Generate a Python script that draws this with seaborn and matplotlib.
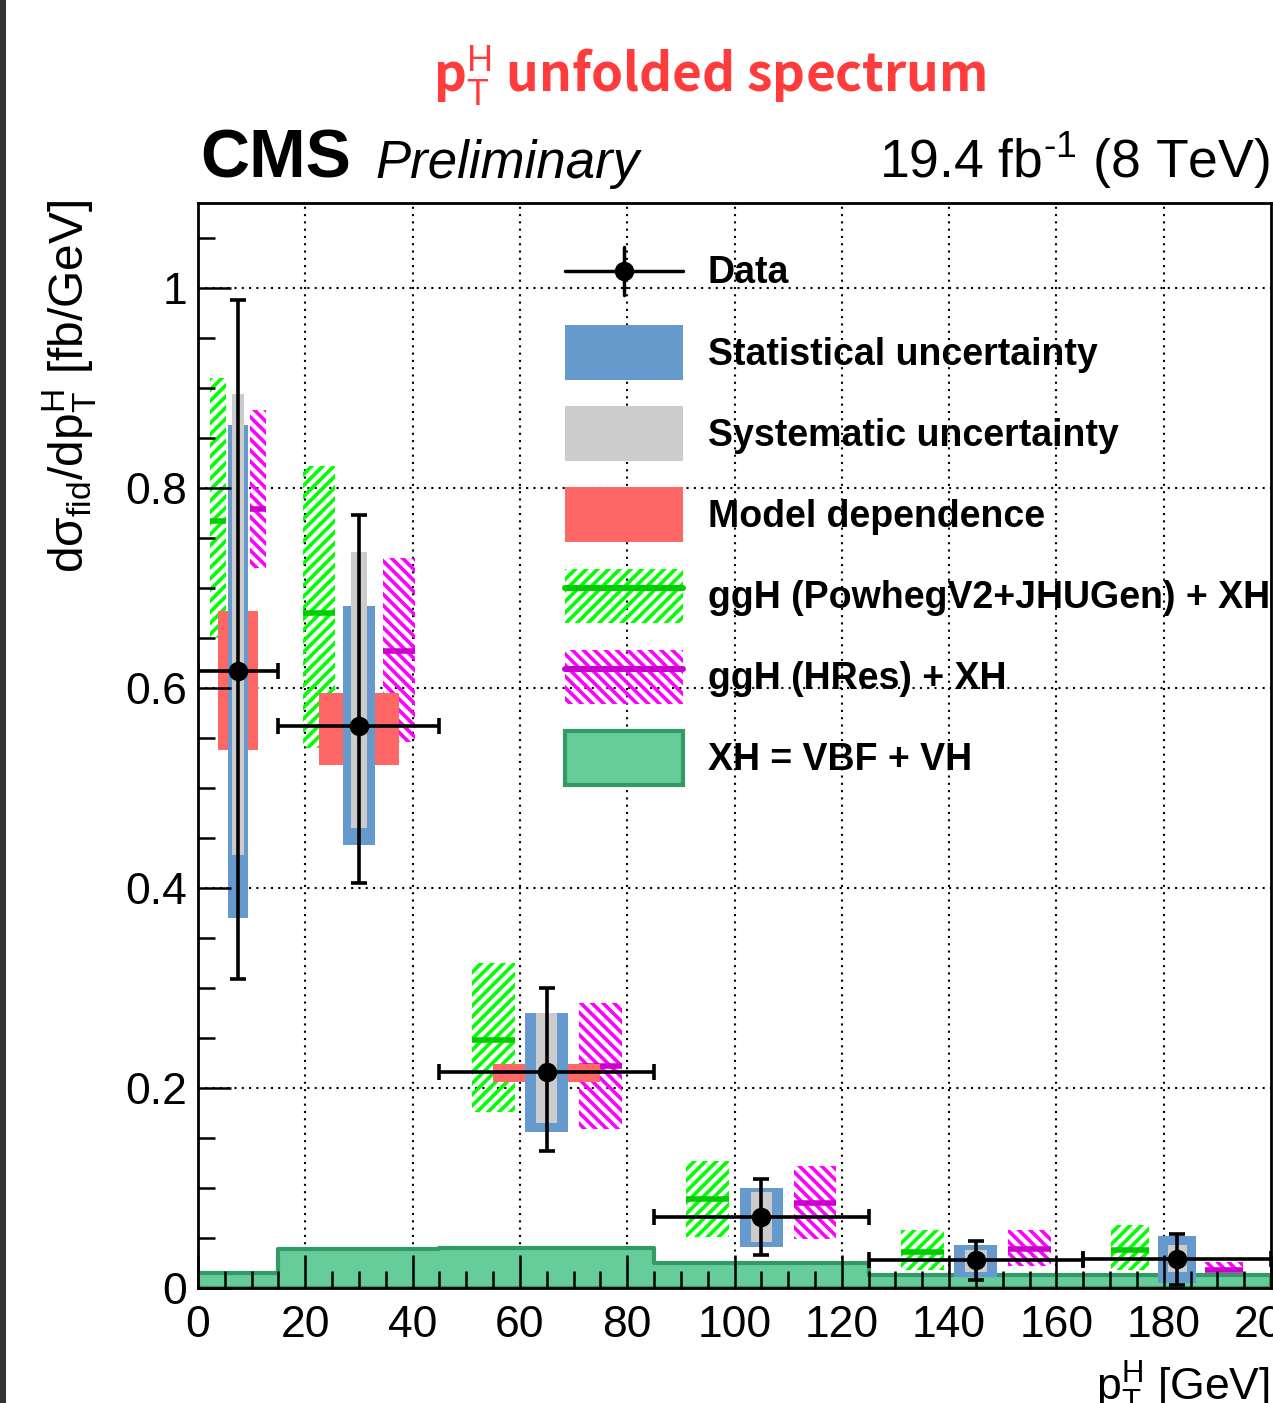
import numpy as np
import pandas as pd
import seaborn as sns
import matplotlib
matplotlib.use("Agg")
import matplotlib.pyplot as plt
from matplotlib.patches import Patch, Rectangle
from matplotlib.lines import Line2D
from matplotlib.legend_handler import HandlerBase, HandlerTuple
from matplotlib.ticker import MultipleLocator, FuncFormatter

# ---- binning (GeV) ----
bin_edges = [0, 15, 45, 85, 125, 165, 200]

# ---- unfolded data: central value and total-uncertainty band [fb/GeV] ----
data_xs = np.array([0.617, 0.562, 0.216, 0.071, 0.028, 0.029])
tot_hi = np.array([0.988, 0.773, 0.300, 0.109, 0.047, 0.054])
tot_lo = np.array([0.309, 0.405, 0.137, 0.033, 0.008, 0.003])

# statistical / systematic / model-dependence bands
stat_hi = np.array([0.863, 0.682, 0.275, 0.100, 0.043, 0.052])
stat_lo = np.array([0.370, 0.443, 0.156, 0.041, 0.011, 0.005])
syst_hi = np.array([0.894, 0.736, 0.275, 0.096, 0.038, 0.043])
syst_lo = np.array([0.433, 0.460, 0.165, 0.046, 0.016, 0.016])
model_hi = np.array([0.677, 0.595, 0.224, np.nan, np.nan, np.nan])
model_lo = np.array([0.538, 0.523, 0.206, np.nan, np.nan, np.nan])

# theory predictions: ggH (PowhegV2+JHUGen) + XH
powheg_c = np.array([0.767, 0.675, 0.248, 0.089, 0.036, 0.038])
powheg_hi = np.array([0.910, 0.822, 0.325, 0.127, 0.058, 0.063])
powheg_lo = np.array([0.650, 0.540, 0.176, 0.051, 0.018, 0.018])

# ggH (HRes) + XH
hres_c = np.array([0.779, 0.637, 0.222, 0.085, 0.039, 0.018])
hres_hi = np.array([0.878, 0.730, 0.285, 0.122, 0.058, 0.026])
hres_lo = np.array([0.720, 0.546, 0.159, 0.049, 0.022, 0.016])

# XH = VBF + VH
xh_vals = [0.015, 0.039, 0.040, 0.025, 0.013, 0.013]

edges = np.array(bin_edges, dtype=float)
centers = 0.5 * (edges[:-1] + edges[1:])
widths = np.diff(edges)

# ---- colours ----
C_STAT = "#6699cc"
C_SYST = "#cccccc"
C_MODEL = "#ff6666"
C_POW_H = "#00ff00"
C_POW_L = "#00cc00"
C_HRES_H = "#ff00ff"
C_HRES_L = "#cc00cc"
C_XH_F = "#66cc99"
C_XH_E = "#339966"
HATCH_POW = "///"
HATCH_HRES = "\\\\\\"

sns.set_theme(style="white")
plt.rcParams.update({
    "font.family": ["Liberation Sans", "DejaVu Sans"],
    "mathtext.fontset": "custom",
    "mathtext.rm": "Liberation Sans",
    "mathtext.it": "Liberation Sans:italic",
    "mathtext.bf": "Noto Sans CJK KR:bold",
    "hatch.linewidth": 2.6,
    "axes.linewidth": 2.0,
    "axes.edgecolor": "black",
    "text.color": "black",
    "axes.labelcolor": "black",
    "xtick.color": "black",
    "ytick.color": "black",
})

W, H = 1273, 1403
fig = plt.figure(figsize=(W / 100, H / 100), dpi=100)
fig.patch.set_facecolor("white")
ax = fig.add_axes([198 / W, 1 - 1288 / H, (1271 - 198) / W, (1288 - 203) / H])

# XH contribution as a filled step histogram
xh_df = pd.DataFrame({"pt": centers, "xs": xh_vals})
sns.histplot(data=xh_df, x="pt", weights="xs", bins=bin_edges, element="step", fill=True,
             facecolor=C_XH_F, edgecolor=C_XH_E, linewidth=3, alpha=1,
             ax=ax, zorder=1.0)

# theory bands (hatched) with central lines
pow_x = edges[:-1] + 0.25 * widths
hres_x = edges[:-1] + 0.75 * widths
band_w = 0.2 * widths
ax.bar(pow_x, powheg_hi - powheg_lo, bottom=powheg_lo, width=band_w,
       facecolor="none", edgecolor=C_POW_H, hatch=HATCH_POW, linewidth=0, zorder=1.1)
ax.bar(hres_x, hres_hi - hres_lo, bottom=hres_lo, width=band_w,
       facecolor="none", edgecolor=C_HRES_H, hatch=HATCH_HRES, linewidth=0, zorder=1.1)
ax.hlines(powheg_c, pow_x - band_w / 2, pow_x + band_w / 2, color=C_POW_L, lw=4, zorder=1.15)
ax.hlines(hres_c, hres_x - band_w / 2, hres_x + band_w / 2, color=C_HRES_L, lw=4, zorder=1.15)

# uncertainty boxes around the data
ok = ~np.isnan(model_hi)
ax.bar(centers[ok], (model_hi - model_lo)[ok], bottom=model_lo[ok], width=0.5 * widths[ok],
       color=C_MODEL, linewidth=0, zorder=1.2)
ax.bar(centers, stat_hi - stat_lo, bottom=stat_lo, width=np.maximum(0.2 * widths, 3.75),
       color=C_STAT, linewidth=0, zorder=1.3)
ax.bar(centers, syst_hi - syst_lo, bottom=syst_lo, width=np.maximum(0.1 * widths, 2.25),
       color=C_SYST, linewidth=0, zorder=1.4)

# data points
ax.errorbar(centers, data_xs, yerr=[data_xs - tot_lo, tot_hi - data_xs],
            xerr=[widths / 2, widths / 2], fmt="o", color="black", ms=13,
            elinewidth=2.6, capsize=6, capthick=2.6, zorder=3)

# axes, ticks and dotted grid
ax.set_xlim(0, 200)
ax.set_ylim(0, 1.085)
ax.xaxis.set_major_locator(MultipleLocator(20))
ax.xaxis.set_minor_locator(MultipleLocator(5))
ax.yaxis.set_major_locator(MultipleLocator(0.2))
ax.yaxis.set_minor_locator(MultipleLocator(0.05))
ax.yaxis.set_major_formatter(FuncFormatter(lambda v, p: f"{v:g}"))
ax.tick_params(which="both", direction="in", top=False, right=False, bottom=True, left=True,
               width=1.8, color="black", labelsize=32, labelcolor="black")
ax.tick_params(which="major", length=24)
ax.tick_params(which="minor", length=12)
ax.tick_params(axis="x", pad=12)
ax.tick_params(axis="y", pad=8)
ax.set_axisbelow(False)
for sp in ax.spines.values():
    sp.set_linewidth(2.0)
    sp.set_color("black")
    sp.set_visible(True)

for gx in ax.get_xticks():
    if 0 < gx < 200:
        ax.axvline(gx, color="black", lw=1.5, ls=(0, (1, 2.5)), zorder=0.5)
for gy in ax.get_yticks():
    if 0 < gy < 1.085:
        ax.axhline(gy, color="black", lw=1.5, ls=(0, (1, 2.5)), zorder=0.5)

ax.set_xlabel("")
ax.set_ylabel("")

# axis titles
fig.text(0.055, 1 - 200 / H, r"dσ$_{\mathrm{fid}}$/dp$_{\mathrm{T}}^{\mathrm{H}}$ [fb/GeV]",
         rotation=90, ha="center", va="top", fontsize=34.5)
fig.text(1270 / W, 1 - 1401 / H, r"p$_{\mathrm{T}}^{\mathrm{H}}$ [GeV]",
         ha="right", va="baseline", fontsize=32)

# header texts
fig.text(200 / W, 1 - 178 / H, "CMS", fontsize=49, fontweight="bold", va="baseline")
fig.text(375 / W, 1 - 178 / H, "Preliminary", fontsize=38, fontstyle="italic", va="baseline")
fig.text(1270 / W, 1 - 178 / H, r"19.4 fb$^{\text{-1}}$ (8 TeV)", fontsize=38.5,
         ha="right", va="baseline")
fig.text(710 / W, 1 - 92 / H, r"$\mathbf{p}_{\mathrm{T}}^{\mathrm{H}}$ unfolded spectrum",
         family=["Noto Sans CJK KR", "DejaVu Sans"], fontweight="bold", fontsize=37,
         color="#ff3b3b", ha="center", va="baseline")

# dark strip along the left border
fig.patches.append(Rectangle((0, 0), 6 / W, 1, transform=fig.transFigure,
                             facecolor="#333333", edgecolor="none", zorder=10))


class DataHandler(HandlerBase):
    def create_artists(self, legend, orig_handle, xdescent, ydescent,
                       width, height, fontsize, trans):
        x0 = -xdescent
        cy = -ydescent + height / 2
        cx = x0 + width / 2
        h = Line2D([x0, x0 + width], [cy, cy], color="black", lw=2.5, transform=trans)
        v = Line2D([cx, cx], [cy - 0.44 * height, cy + 0.44 * height], color="black",
                   lw=2.5, transform=trans)
        m = Line2D([cx], [cy], marker="o", ms=13, color="black", transform=trans)
        return [h, v, m]


# legend geometry expressed in units of its font size
LEG_FS = 27
scale = 28 / LEG_FS
data_handle = Line2D([], [], color="black")
handles = [
    data_handle,
    Patch(facecolor=C_STAT, edgecolor="none"),
    Patch(facecolor=C_SYST, edgecolor="none"),
    Patch(facecolor=C_MODEL, edgecolor="none"),
    (Patch(facecolor="none", edgecolor=C_POW_H, hatch=HATCH_POW, linewidth=0),
     Line2D([], [], color=C_POW_L, lw=4.3)),
    (Patch(facecolor="none", edgecolor=C_HRES_H, hatch=HATCH_HRES, linewidth=0),
     Line2D([], [], color=C_HRES_L, lw=4.3)),
    Patch(facecolor=C_XH_F, edgecolor=C_XH_E, linewidth=3),
]
labels = ["Data", "Statistical uncertainty", "Systematic uncertainty", "Model dependence",
          "ggH (PowhegV2+JHUGen) + XH", "ggH (HRes) + XH", "XH = VBF + VH"]
leg = ax.legend(handles, labels, loc="upper left",
                bbox_to_anchor=(565 / W, 1 - 244 / H), bbox_transform=fig.transFigure,
                frameon=False, borderpad=0, borderaxespad=0,
                handlelength=3.03 * scale, handleheight=1.8 * scale,
                handletextpad=0.64 * scale, labelspacing=0.68 * scale,
                prop={"family": "Liberation Sans", "weight": "bold", "size": LEG_FS},
                handler_map={data_handle: DataHandler(), tuple: HandlerTuple(ndivide=1, pad=0)})
leg.set_zorder(4)

fig.savefig("out.png", dpi=100)
